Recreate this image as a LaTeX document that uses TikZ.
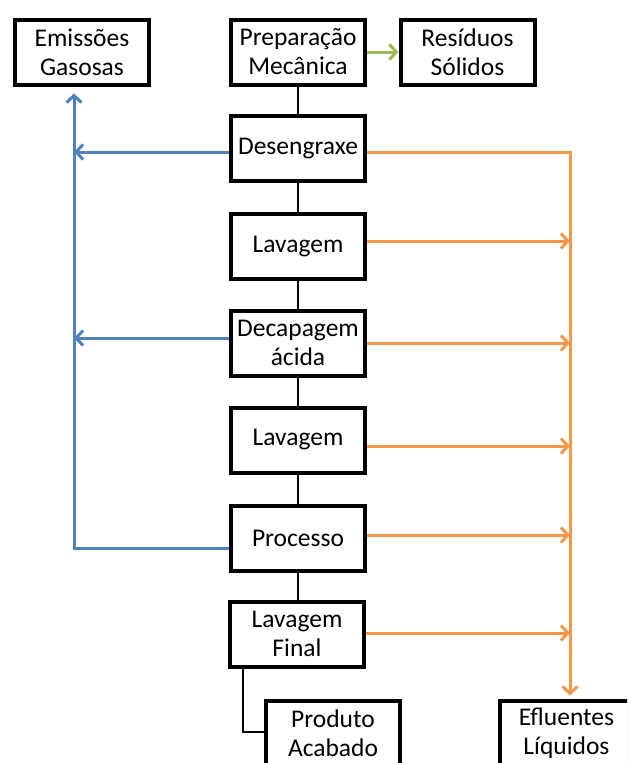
\documentclass[tikz,border=0pt]{standalone}
\usepackage{fontspec}
\setmainfont{Carlito}
\usetikzlibrary{arrows.meta,shadows}
\definecolor{cblue}{RGB}{79,129,189}
\definecolor{corange}{RGB}{247,150,70}
\definecolor{cgreen}{RGB}{155,187,89}
\begin{document}
\begin{tikzpicture}[x=1pt,y=-1pt,
  box/.style={draw=black,line width=4pt,fill=white,minimum width=134pt,minimum height=65pt,
    inner sep=0pt,align=center,font=\fontsize{25.5}{29}\selectfont,
    drop shadow={shadow xshift=1pt,shadow yshift=-1.5pt,opacity=0.25,fill=black}},
  link/.style={draw=black,line width=2.4pt},
  tipx/.style={-{Straight Barb[length=7pt,width=15pt]}},
  bl/.style={draw=cblue,line width=3pt},
  orl/.style={draw=corange,line width=3pt},
  gr/.style={draw=cgreen,line width=3pt}]
\useasboundingbox (0,0) rectangle (627,763);
\clip (0,0) rectangle (627,763);
\fill[white] (0,0) rectangle (627,763);

\node[box] (em) at (82,52) {Emissões\\Gasosas};
\node[box] (prep) at (298,52) {Preparação\\Mecânica};
\node[box] (res) at (467.5,52) {Resíduos\\Sólidos};
\node[box] (des) at (298,148.5) {Desengraxe};
\node[box] (lav1) at (298,246.5) {Lavagem};
\node[box] (dec) at (298,343) {Decapagem\\ácida};
\node[box] (lav2) at (298,440) {Lavagem};
\node[box] (proc) at (298,538) {Processo};
\node[box] (fin) at (297,634) {Lavagem\\Final};
\node[box] (prod) at (333,733) {Produto\\Acabado};
\node[box] (eff) at (566.5,733) {Efluentes\\Líquidos};

% central chain
\draw[link] (prep) -- (des);
\draw[link] (des) -- (lav1);
\draw[link] (lav1) -- (dec);
\draw[link] (dec) -- (lav2);
\draw[link] (lav2) -- (proc);
\draw[link] (proc.south) -- (proc.south |- fin.north);
\coordinate (p1) at (243,732);
\draw[link] (p1 |- fin.south) -- (p1) -- (p1 -| prod.west);

% green
\draw[gr,tipx] (prep.east) -- (res.west);

% blue
\coordinate (b1) at (74,152);
\coordinate (b2) at (74,338);
\coordinate (b3) at (74,548);
\draw[bl,tipx] (b1 -| des.west) -- (b1);
\draw[bl,tipx] (b2 -| dec.west) -- (b2);
\draw[bl,tipx,shorten >=7pt] (b3 -| proc.west) -- (b3) -- (b3 |- em.south);

% orange
\coordinate (o0) at (570,152);
\coordinate (o1) at (570,241);
\coordinate (o2) at (570,343);
\coordinate (o3) at (570,446);
\coordinate (o4) at (570,535);
\coordinate (o5) at (570,633);
\draw[orl,tipx,shorten >=3pt] (o0 -| des.east) -- (o0) -- (o0 |- eff.north);
\draw[orl,tipx] (o1 -| lav1.east) -- (o1);
\draw[orl,tipx] (o2 -| dec.east) -- (o2);
\draw[orl,tipx] (o3 -| lav2.east) -- (o3);
\draw[orl,tipx] (o4 -| proc.east) -- (o4);
\draw[orl,tipx] (o5 -| fin.east) -- (o5);
\end{tikzpicture}
\end{document}
